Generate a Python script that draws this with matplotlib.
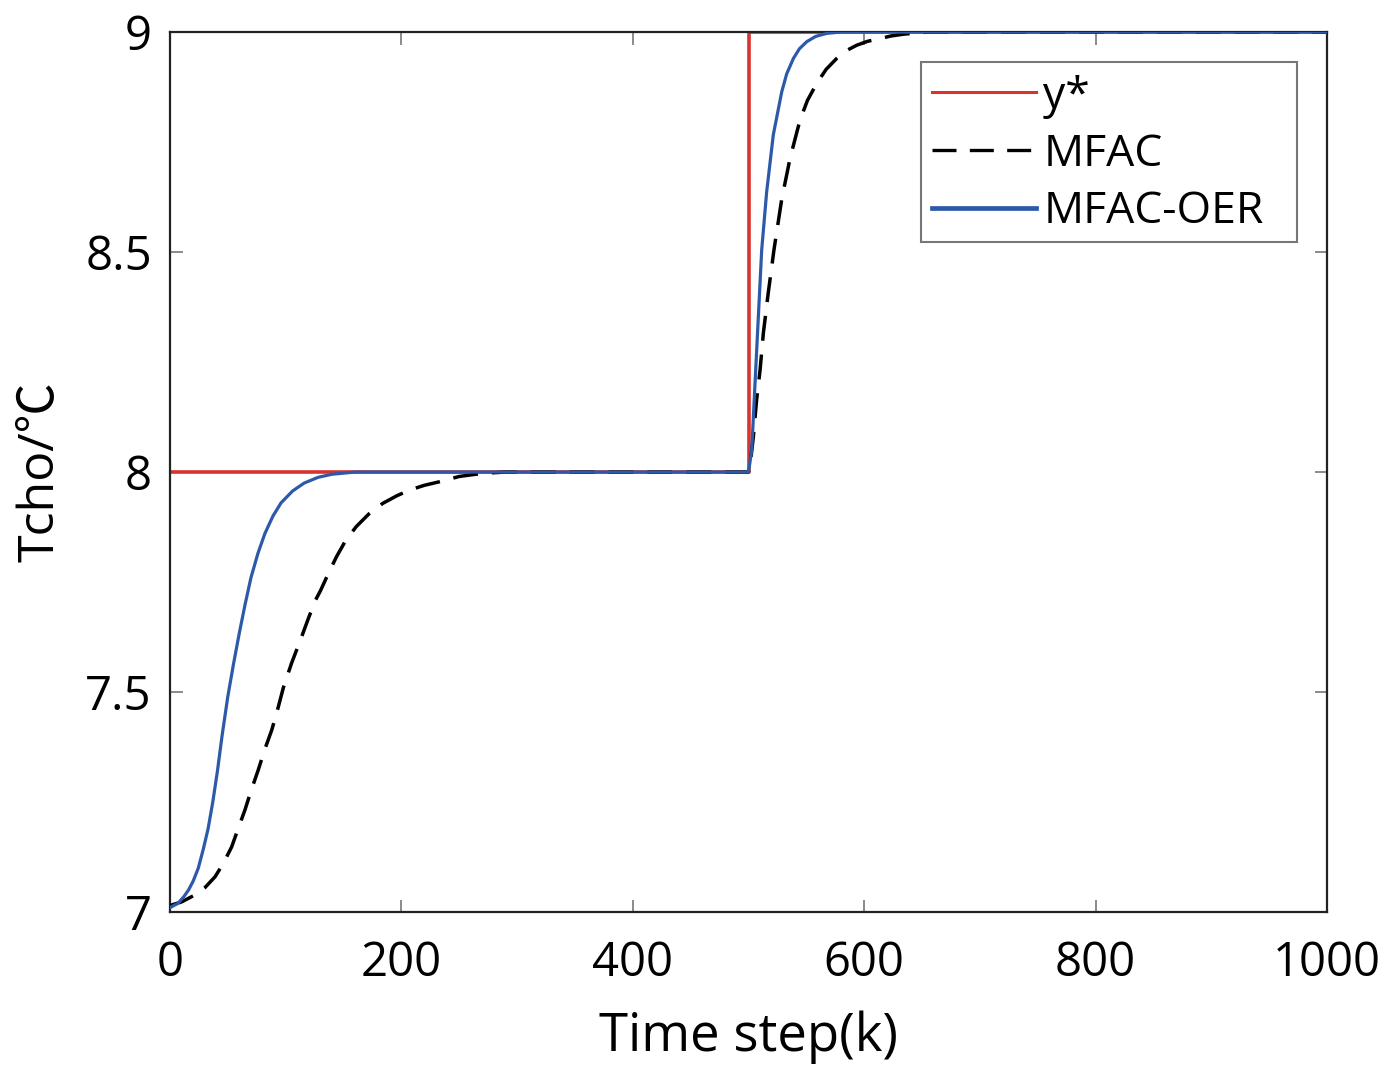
import matplotlib
matplotlib.use("Agg")
import matplotlib.pyplot as plt
from matplotlib.patches import Rectangle

# Reference signal y*
ref_k = [0, 500, 500, 1000]
ref_y = [8.0, 8.0, 9.0, 9.0]

# MFAC response (time step, Tcho)
mfac_k = [0, 10, 21.6, 30, 38.9, 46, 53.3, 59, 64.8, 70, 76.3, 82, 88, 93, 98,
          105, 113, 120, 126, 130, 137, 144, 152, 161, 172, 184, 196, 207, 220,
          233, 250, 270, 290,
          500, 502, 504.2, 507, 510, 512.8, 517, 522, 528.7, 535.9, 544.5, 551,
          558.9, 567, 576.2, 584, 593.5, 603, 613.7, 623, 633.6, 655, 1000]
mfac_y = [7.015, 7.023, 7.039, 7.055, 7.08, 7.11, 7.148, 7.19, 7.232, 7.275,
          7.323, 7.37, 7.414, 7.46, 7.51,
          7.565, 7.62, 7.67, 7.71, 7.73, 7.77, 7.808, 7.845, 7.876, 7.905, 7.929,
          7.946, 7.959, 7.97, 7.978, 7.99, 7.997, 8.0,
          8.0, 8.03, 8.08, 8.164, 8.232, 8.315, 8.406, 8.505, 8.62, 8.713, 8.80,
          8.845, 8.883, 8.915, 8.94, 8.957, 8.97, 8.979, 8.985, 8.991, 8.995,
          9.0, 9.0]

# MFAC-OER response (time step, Tcho)
oer_k = [0, 7, 12, 16, 20, 24.5, 29, 33, 37, 41, 45, 50, 55, 60, 65, 70, 76,
         82, 89, 96, 106, 116, 128, 140, 160,
         500, 502.8, 505.6, 508.5, 511.4, 515.7, 521.4, 528.7, 533, 538.8, 544,
         550.3, 558, 567.6, 580, 1000]
oer_y = [7.01, 7.02, 7.035, 7.05, 7.07, 7.10, 7.145, 7.19, 7.25, 7.32, 7.40,
         7.49, 7.565, 7.635, 7.70, 7.76, 7.815, 7.86, 7.90, 7.93, 7.957, 7.975,
         7.988, 7.995, 8.0,
         8.0, 8.05, 8.2, 8.353, 8.505, 8.637, 8.766, 8.864, 8.905, 8.94, 8.962,
         8.978, 8.99, 8.997, 9.0, 9.0]

x_ticks = [0, 200, 400, 600, 800, 1000]
y_ticks = [7, 7.5, 8, 8.5, 9]
y_tick_labels = ["7", "7.5", "8", "8.5", "9"]

RED = "#d8332f"
BLUE = "#2d5aa8"

plt.rcParams["font.family"] = ["Open Sans", "Noto Sans CJK SC", "DejaVu Sans"]

fig = plt.figure(figsize=(14, 10.68), dpi=100)
ax = fig.add_axes([0.1214, 0.146, 0.8265, 0.824])

ax.plot(ref_k, ref_y, color=RED, lw=2.6, label="y*", zorder=2)
ax.plot(mfac_k, mfac_y, color="black", lw=2.5, ls=(0, (7.2, 4.0)),
        label="MFAC", zorder=3)
ax.plot(oer_k, oer_y, color=BLUE, lw=2.3, label="MFAC-OER", zorder=4)

ax.set_xlim(0, 1000)
ax.set_ylim(7, 9)
ax.set_xticks(x_ticks)
ax.set_yticks(y_ticks)
ax.set_yticklabels(y_tick_labels)
ax.tick_params(direction="in", length=9, width=1.2, top=True, right=True,
               labelsize=34, color="#777777")
ax.tick_params(axis="x", pad=20)
ax.tick_params(axis="y", pad=13)
for s in ax.spines.values():
    s.set_linewidth(1.6)
    s.set_color("#222222")

ax.set_xlabel("Time step(k)", fontsize=38, labelpad=17)
ax.set_ylabel("Tcho/℃", fontsize=36, labelpad=14)

# Legend frame drawn as a separate box so the padding can be set freely
ax.add_patch(Rectangle((0.649, 0.761), 0.325, 0.205, transform=ax.transAxes,
                       facecolor="white", edgecolor="#777777", lw=1.5,
                       zorder=9))
leg = ax.legend(loc="upper left", bbox_to_anchor=(0.6586, 0.952),
                borderaxespad=0, fontsize=32, handlelength=2.35,
                handletextpad=0.15, labelspacing=0.3, borderpad=0,
                frameon=False)
leg.set_zorder(10)
leg_lines = leg.get_lines()
leg_lines[0].set_linewidth(2.2)
leg_lines[1].set_linewidth(2.4)
leg_lines[2].set_linewidth(3.4)

fig.savefig("out.png", dpi=100)
